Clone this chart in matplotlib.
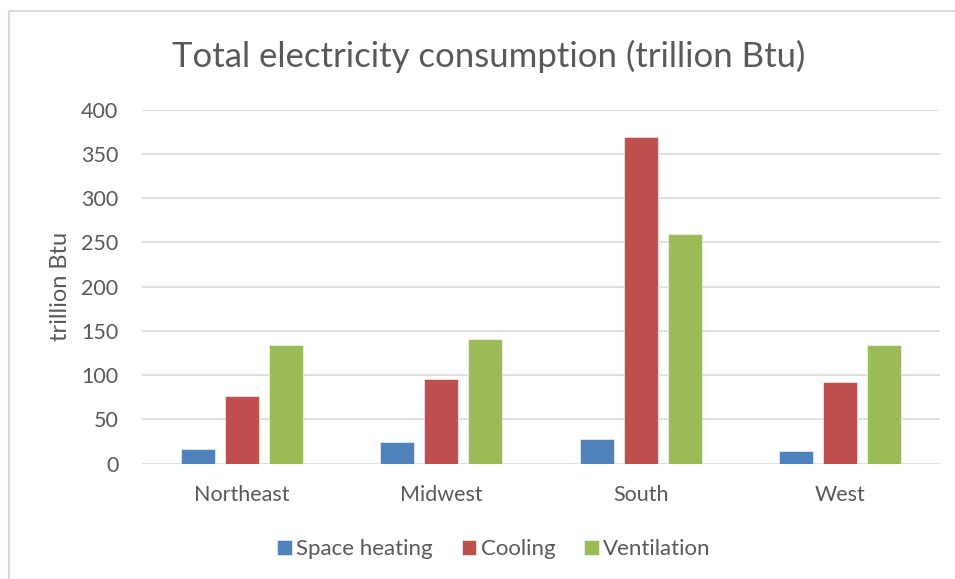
import numpy as np
import matplotlib.pyplot as plt
from matplotlib.lines import Line2D

# regional electricity use by end use, trillion Btu
regions = ["Northeast", "Midwest", "South", "West"]
space_heating = [17, 25, 28, 14]
cooling = [76, 96, 369, 92]
ventilation = [134, 141, 259, 134]

series = [
    ("Space heating", space_heating, "#4F81BD"),
    ("Cooling", cooling, "#C0504D"),
    ("Ventilation", ventilation, "#9BBB59"),
]

text_color = "#595959"
plt.rcParams["font.family"] = ["Lato", "DejaVu Sans"]

fig = plt.figure(figsize=(9.55, 5.79), dpi=100)
ax = fig.add_axes([142 / 955, 115.3 / 579, 798 / 955, 354 / 579])

x = np.arange(len(regions))
bar_w = 0.17
step = 0.22
for i, (name, vals, color) in enumerate(series):
    ax.bar(x + (i - 1) * step, vals, width=bar_w, color=color,
           edgecolor="white", linewidth=0.4, label=name, zorder=3)

ax.set_xlim(-0.5, len(regions) - 0.5)
ax.set_ylim(0, 400)
ax.set_yticks(range(0, 401, 50))
ax.set_xticks(x)
ax.set_xticklabels(regions)
ax.grid(axis="y", color="#D9D9D9", linewidth=1.2, zorder=0)
for s in ax.spines.values():
    s.set_visible(False)
ax.tick_params(length=0, labelsize=15.5, colors=text_color)
ax.tick_params(axis="y", pad=17)
ax.tick_params(axis="x", pad=15)
ax.set_ylabel("trillion Btu", fontsize=17, color=text_color, labelpad=7)

fig.text(489 / 955, 1 - 56 / 579, "Total electricity consumption (trillion Btu)",
         ha="center", va="center", fontsize=25, color=text_color)

ax.legend(loc="center", bbox_to_anchor=(0.441, -0.241), ncol=3, frameon=False,
          fontsize=16, labelcolor=text_color, handlelength=0.65, handleheight=0.65,
          handletextpad=0.2, columnspacing=1.3)

# chart area frame (top and left edges)
fig.add_artist(Line2D([8.5 / 955, 8.5 / 955, 1.0], [0.0, 1 - 11 / 579, 1 - 11 / 579],
                      transform=fig.transFigure, color="#D9D9D9", linewidth=1.5))

fig.savefig("out.png", dpi=100)
